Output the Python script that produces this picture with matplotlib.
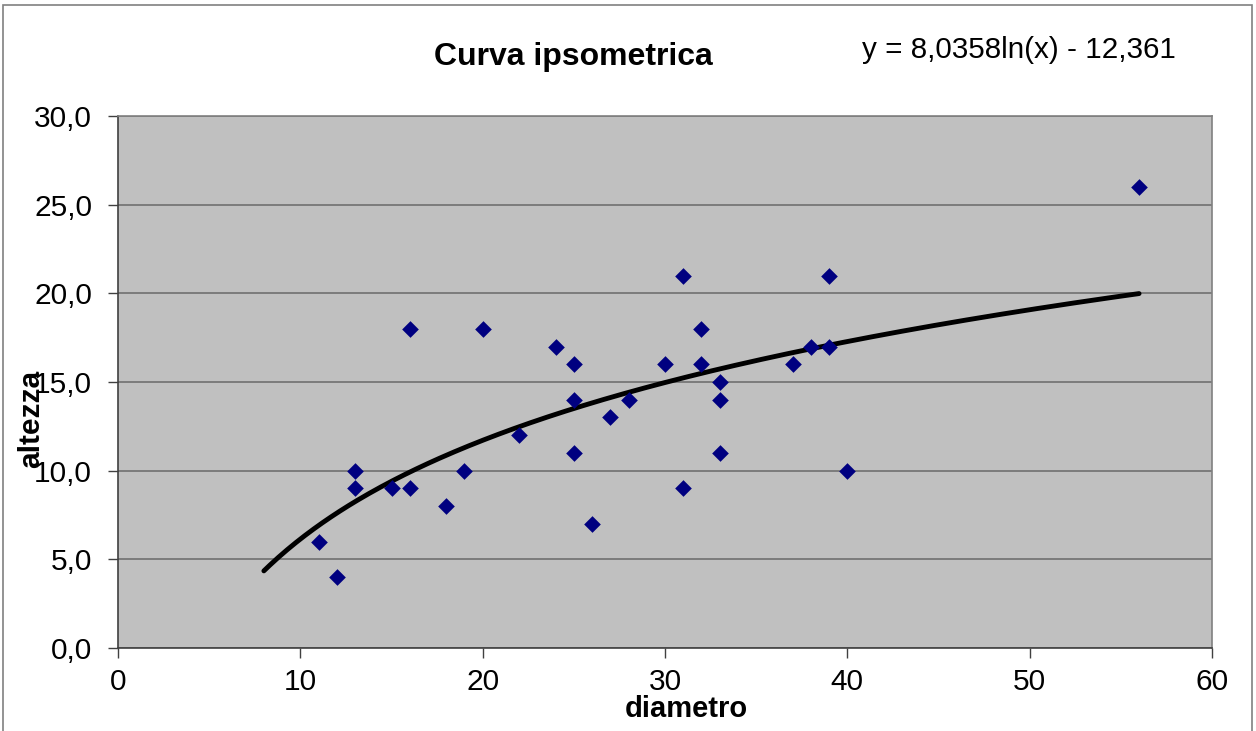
import numpy as np
import matplotlib
matplotlib.use("Agg")
import matplotlib.pyplot as plt
from matplotlib.patches import Rectangle
from matplotlib.ticker import FuncFormatter

plt.rcParams['font.family'] = ['Liberation Sans', 'DejaVu Sans']

# data
diametro = [11, 12, 13, 13, 15, 16, 16, 18, 19, 20, 22, 24, 25, 25, 25, 26, 27, 28,
            30, 31, 31, 32, 32, 33, 33, 33, 37, 38, 39, 39, 40, 56]
altezza = [6, 4, 10, 9, 9, 9, 18, 8, 10, 18, 12, 17, 16, 14, 11, 7, 13, 14,
           16, 21, 9, 18, 16, 15, 14, 11, 16, 17, 21, 17, 10, 26]
trend_a, trend_b = 8.0358, -12.361
trend_range = (8, 56)
title = "Curva ipsometrica"
equation = "y = 8,0358ln(x) - 12,361"

fig = plt.figure(figsize=(12.56, 7.31), dpi=100)
fig.patch.set_facecolor('white')
fig.patches.append(Rectangle((3/1256, -0.01), 1249/1256, 1 - 5/731 + 0.01,
                             transform=fig.transFigure, fill=False,
                             edgecolor='#808080', lw=1.2))

ax = fig.add_axes([118/1256, 1 - 648/731, (1212-118)/1256, (648-116)/731])
ax.set_facecolor('#C0C0C0')
ax.set_xlim(0, 60)
ax.set_ylim(0, 30)
ax.set_xticks(range(0, 61, 10))
ax.set_yticks(np.arange(0, 30.1, 5))
ax.yaxis.set_major_formatter(FuncFormatter(lambda v, p: f"{v:.1f}".replace('.', ',')))
ax.grid(axis='y', color='#707070', lw=1.2)
ax.set_axisbelow(True)
for s in ['top', 'right']:
    ax.spines[s].set_color('#808080')
    ax.spines[s].set_linewidth(1.2)
for s in ['left', 'bottom']:
    ax.spines[s].set_color('#404040')
    ax.spines[s].set_linewidth(1.2)
ax.tick_params(axis='both', direction='out', length=7.2, width=1, color='#404040',
               labelsize=21.5)
ax.tick_params(axis='y', pad=11.5)
ax.tick_params(axis='x', pad=7)

xt = np.linspace(trend_range[0], trend_range[1], 300)
ax.plot(xt, trend_a * np.log(xt) + trend_b, color='black', lw=3.5,
        solid_capstyle='round', zorder=3)
ax.scatter(diametro, altezza, marker='D', s=72, color='#000080', zorder=4, linewidths=0)

fig.text(573/1256, 1 - 57/731, title, ha='center', va='center',
         fontsize=23, fontweight='bold')
fig.text(1019/1256, 1 - 50/731, equation, ha='center', va='center', fontsize=21.3)
fig.text(686/1256, 1 - 709/731, "diametro", ha='center', va='center',
         fontsize=21, fontweight='bold')
fig.text(31/1256, 1 - 419/731, "altezza", ha='center', va='center', rotation=90,
         fontsize=21.5, fontweight='bold')

fig.savefig('out.png', dpi=100)
